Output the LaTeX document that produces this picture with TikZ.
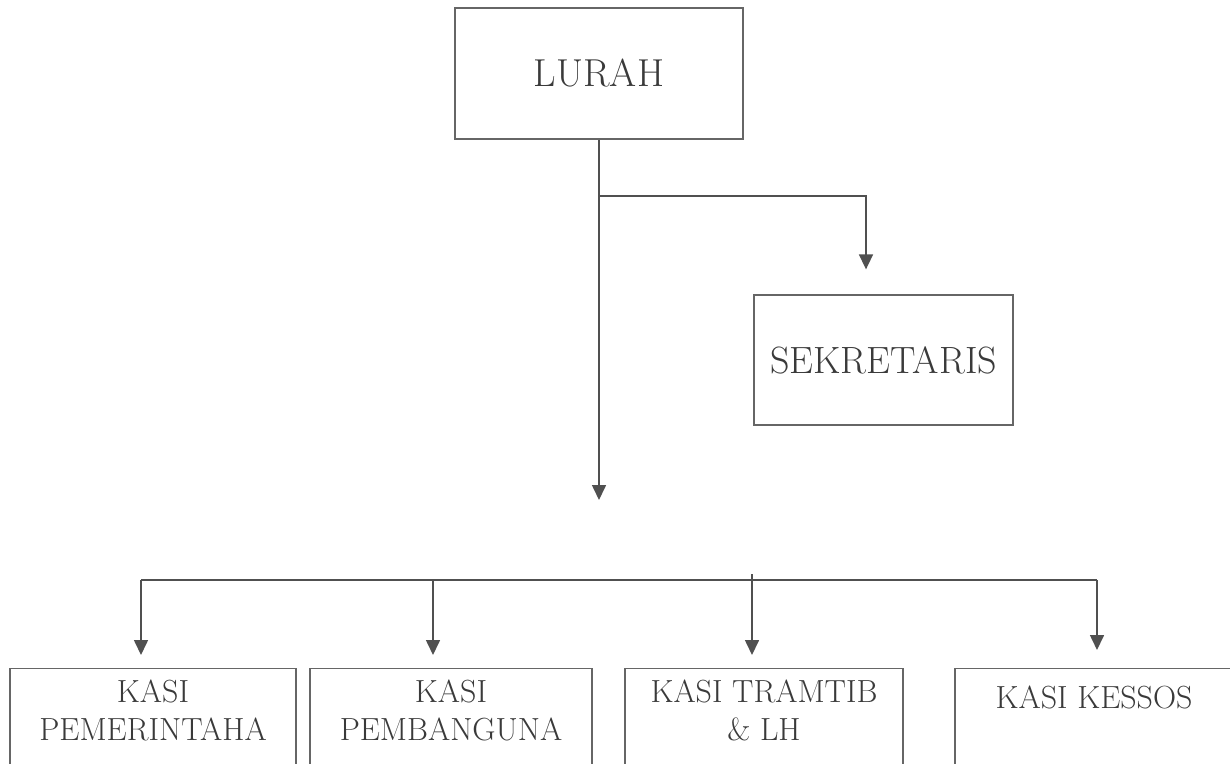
\documentclass[tikz,border=0pt]{standalone}
\usetikzlibrary{arrows.meta}
\definecolor{ln}{HTML}{505050}
\definecolor{bx}{HTML}{666666}
\definecolor{tx}{HTML}{3A3A3A}
\begin{document}
\begin{tikzpicture}[x=1pt,y=-1pt,
  box/.style={draw=bx,line width=1.3pt,rectangle,inner sep=0pt},
  conn/.style={draw=ln,line width=1.6pt},
  arr/.style={conn,-{Triangle[width=14pt,length=15pt,fill=ln]}},
  ktext/.style={text=tx,inner sep=0pt,align=center,anchor=north,font=\fontsize{32}{38}\selectfont}]
\useasboundingbox (0,0) rectangle (1230,763);
\clip (0,0) rectangle (1230,763);
\node[box,minimum width=288pt,minimum height=131pt,text=tx,font=\fontsize{39}{44}\selectfont] (lurah) at (599,73.5) {LURAH};
\node[box,minimum width=259pt,minimum height=130pt,text=tx,font=\fontsize{38}{44}\selectfont] (sek) at (883.5,360) {SEKRETARIS};
\node[box,anchor=north,minimum width=286pt,minimum height=130pt] (k1) at (153,668) {};
\node[box,anchor=north,minimum width=282pt,minimum height=130pt] (k2) at (451,668) {};
\node[box,anchor=north,minimum width=278pt,minimum height=130pt] (k3) at (764,668) {};
\node[box,anchor=north,minimum width=290pt,minimum height=130pt] (k4) at (1100,668) {};
\node[ktext] (t1) at ([yshift=-12]k1.north) {KASI\\PEMERINTAHA};
\node[ktext] (t2) at ([yshift=-12]k2.north) {KASI\\PEMBANGUNA};
\node[ktext] (t3) at ([yshift=-12]k3.north) {KASI TRAMTIB\\\& LH};
\node[ktext] (t4) at ([yshift=-18]k4.north -| 1094,0) {KASI KESSOS};
\coordinate (m) at (599,500);
\coordinate (j1) at (599,196);
\coordinate (sx) at (866,196);
\coordinate (b1) at (141,580);
\coordinate (b2) at (433,580);
\coordinate (b3) at (752,580);
\coordinate (b4) at (1097,580);
\draw[arr] (lurah.south -| m) -- (m);
\draw[arr,shorten >=25pt] (j1) -- (sx) -- (sek.north -| sx);
\draw[conn] (b1) -- (b4);
\draw[conn] (b3) -- ([yshift=6]b3);
\draw[arr,shorten >=13pt] (b1) -- (k1.north -| b1);
\draw[arr,shorten >=13pt] (b2) -- (k2.north -| b2);
\draw[arr,shorten >=13pt] (b3) -- (k3.north -| b3);
\draw[arr,shorten >=18pt] (b4) -- (k4.north -| b4);
\end{tikzpicture}
\end{document}
